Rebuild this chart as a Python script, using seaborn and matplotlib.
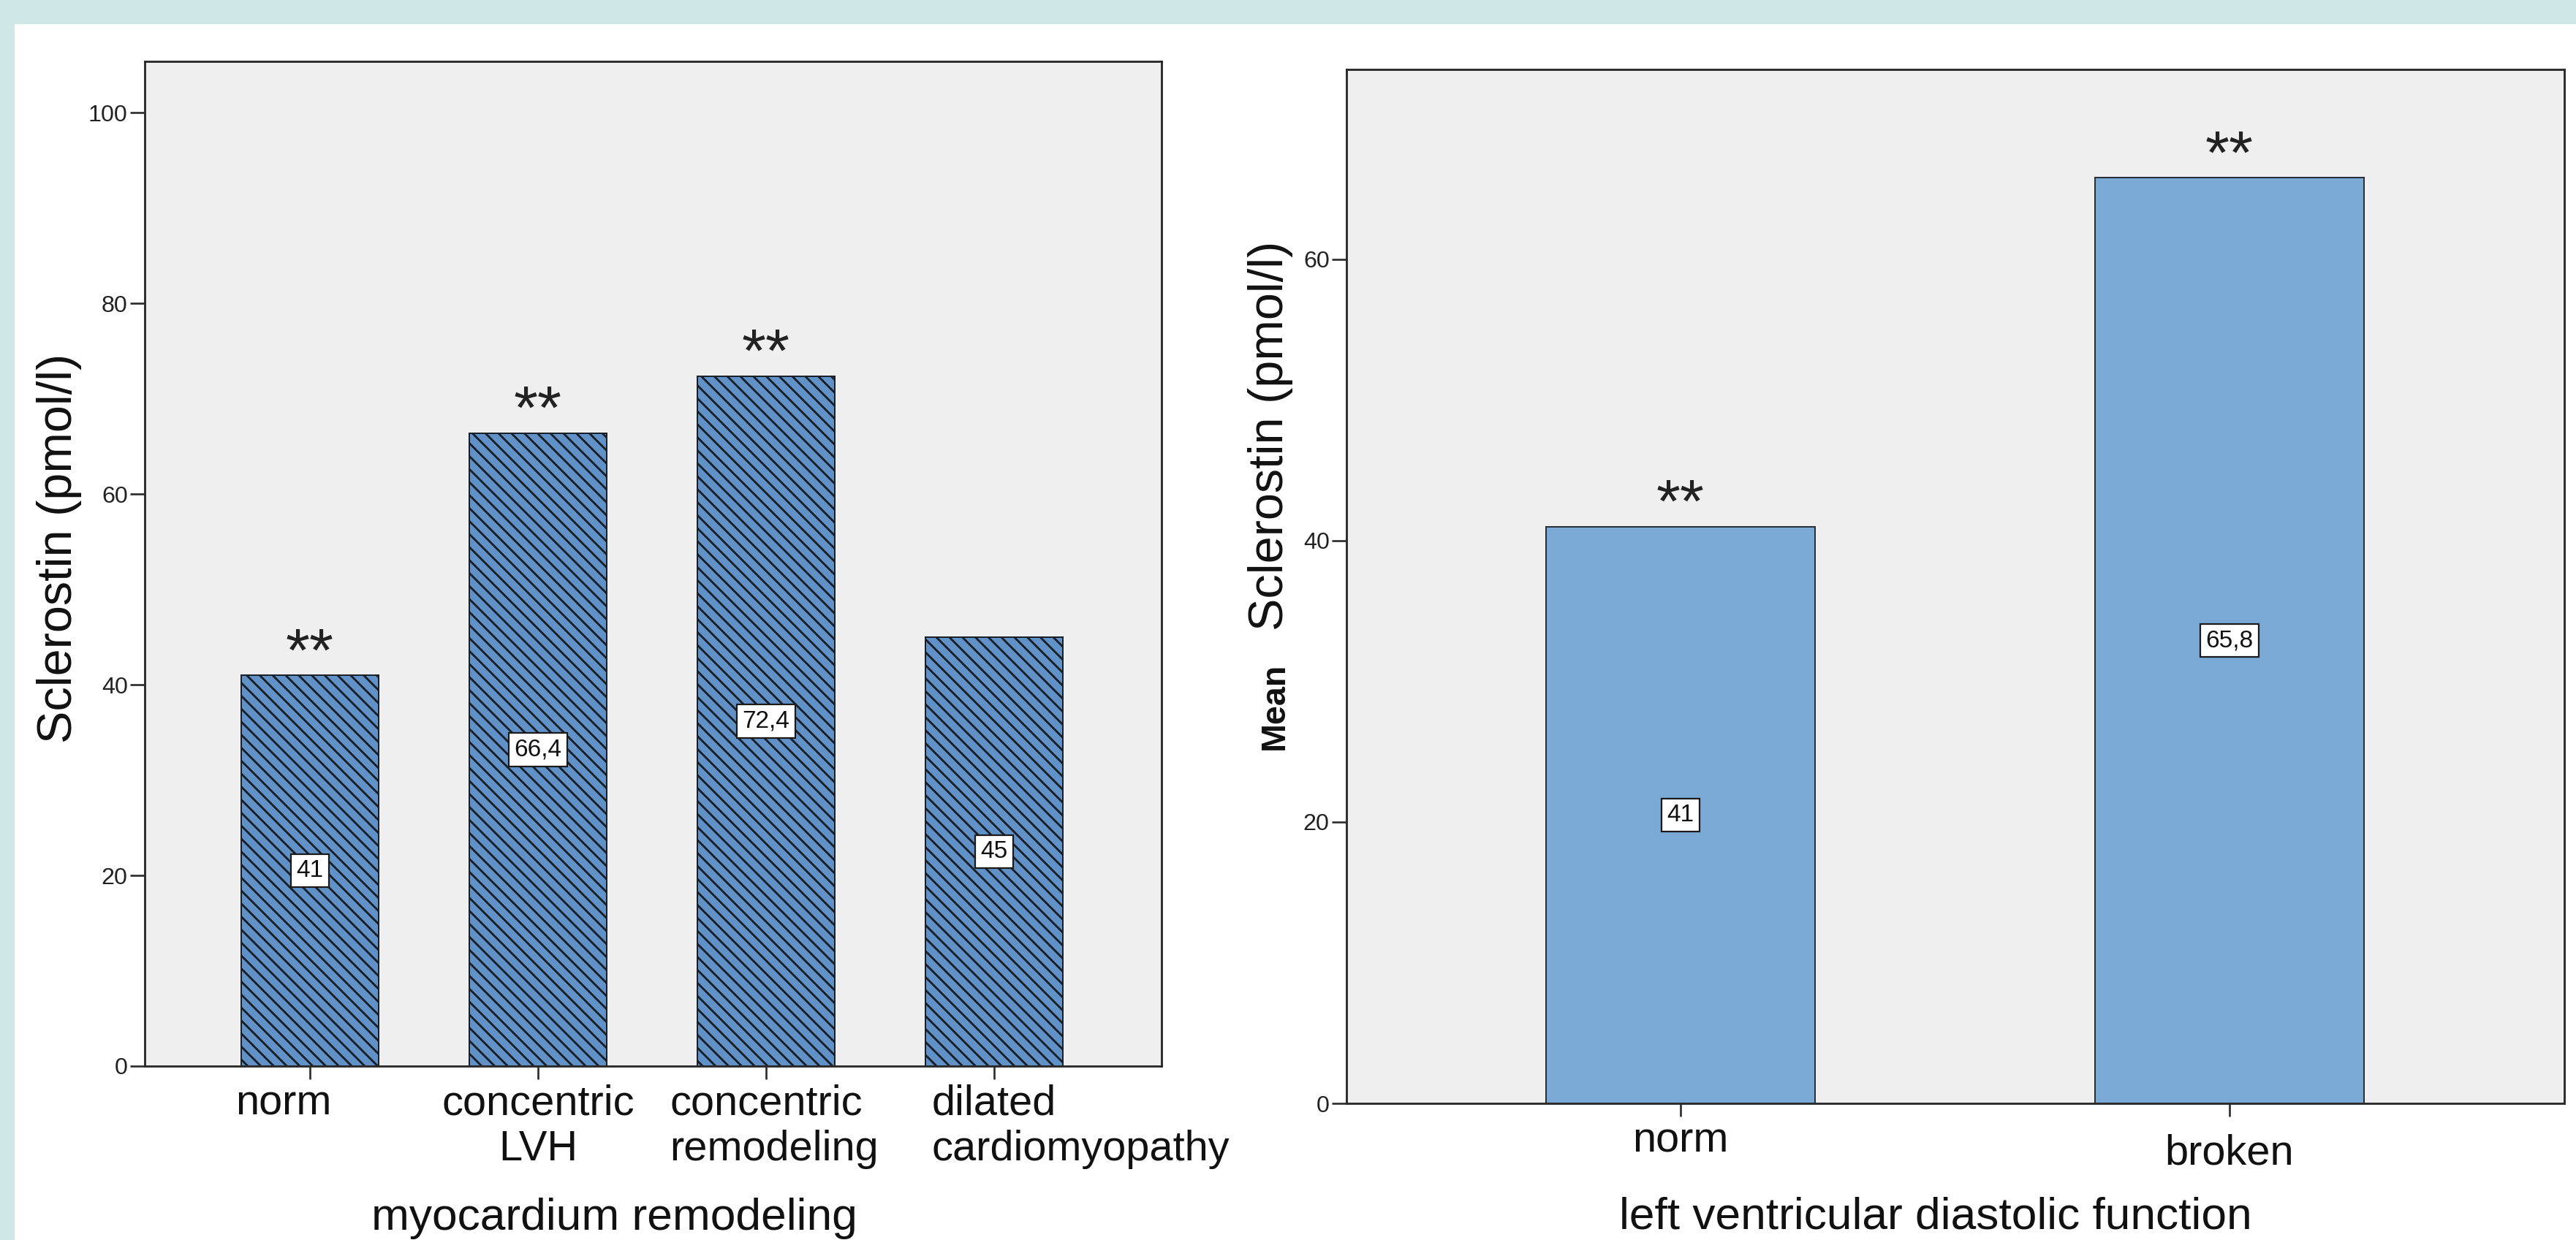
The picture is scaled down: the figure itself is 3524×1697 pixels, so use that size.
import matplotlib
matplotlib.use("Agg")
import matplotlib.pyplot as plt
import seaborn as sns
from matplotlib.patches import Rectangle
from matplotlib.transforms import ScaledTranslation

# Mean sclerostin by myocardium remodeling type
remodeling_groups = ["norm", "concentric\nLVH", "concentric\nremodeling", "dilated\ncardiomyopathy"]
remodeling_means = [41.0, 66.4, 72.4, 45.0]
remodeling_marks = ["**", "**", "**", ""]
remodeling_yticks = [0, 20, 40, 60, 80, 100]

# Mean sclerostin by left ventricular diastolic function
diastolic_groups = ["norm", "broken"]
diastolic_means = [41.0, 65.8]
diastolic_marks = ["**", "**"]
diastolic_yticks = [0, 20, 40, 60]

sns.set_style("ticks")
plt.rcParams["font.family"] = ["Liberation Sans", "DejaVu Sans"]
plt.rcParams["hatch.linewidth"] = 1.3

DPI = 160
W, H = 3524, 1697
fig = plt.figure(figsize=(W / DPI, H / DPI), dpi=DPI, facecolor="white")

# light teal frame strips along the top and left edges
frame_color = "#d0e7e8"
fig.patches.append(Rectangle((0, 1 - 32 / H), 1, 32 / H, transform=fig.transFigure,
                             color=frame_color, zorder=0))
fig.patches.append(Rectangle((0, 0), 19 / W, 1, transform=fig.transFigure,
                             color=frame_color, zorder=0))

ax1 = fig.add_axes([198 / W, 1 - 1459 / H, 1391 / W, 1375 / H])
ax2 = fig.add_axes([1842 / W, 1 - 1510 / H, 1666 / W, 1415 / H])


def value_text(v):
    s = f"{v:.1f}"
    if s.endswith(".0"):
        s = s[:-2]
    return s.replace(".", ",")


sns.barplot(x=remodeling_groups, y=remodeling_means, ax=ax1, color="#6092c8",
            saturation=1, width=0.6, edgecolor="#1a202a", linewidth=0.9,
            hatch="\\\\\\", errorbar=None)
sns.barplot(x=diastolic_groups, y=diastolic_means, ax=ax2, color="#7ba9d6",
            saturation=1, width=0.49, edgecolor="#2a2f36", linewidth=0.9,
            errorbar=None)

for ax in (ax1, ax2):
    ax.set_facecolor("#efefef")
    for s in ax.spines.values():
        s.set_visible(True)
        s.set_color("#2b2b2b")
        s.set_linewidth(1.3)
    ax.grid(False)
    ax.tick_params(axis="both", direction="out", width=1.2, color="#2b2b2b")
    ax.tick_params(axis="y", length=9, labelsize=14.5, pad=1.5, labelcolor="#222222")
    ax.tick_params(axis="x", length=8, labelsize=26, pad=3, labelcolor="#111111")

ax1.set_ylim(0, 105.4)
ax1.set_yticks(remodeling_yticks)
ax1.set_xlim(-0.724, 3.734)
ax2.set_ylim(0, 73.5)
ax2.set_yticks(diastolic_yticks)
ax2.set_xlim(-0.6085, 1.61)

# value boxes in the middle of each bar, significance marks above
box = dict(boxstyle="square,pad=0.22", fc="white", ec="#1a1a1a", lw=1.0)
for ax, means, marks in ((ax1, remodeling_means, remodeling_marks),
                         (ax2, diastolic_means, diastolic_marks)):
    bars = ax.containers[0]
    ax.bar_label(bars, labels=[value_text(v) for v in means], label_type="center",
                 fontsize=15, color="#111111", bbox=box)
    ax.bar_label(bars, labels=marks, padding=-5, fontsize=38, color="#222222")

# axis titles
ax1.set_ylabel("Sclerostin (pmol/l)", fontsize=30, color="#111111")
ax1.yaxis.set_label_coords(-0.0841, 0.5156)
ax1.yaxis.label.set_va("center")
ax1.set_xlabel("myocardium remodeling", fontsize=28, color="#111111")
ax1.xaxis.set_label_coords(0.4615, -0.1513)
ax1.xaxis.label.set_va("center")

ax2.set_ylabel("Sclerostin (pmol/l)", fontsize=30, color="#111111")
ax2.yaxis.set_label_coords(-0.0624, 0.646)
ax2.yaxis.label.set_va("center")
ax2.text(-0.0588, 0.384, "Mean", transform=ax2.transAxes, rotation=90,
         fontsize=21, fontweight="bold", ha="center", va="center", color="#111111")
ax2.set_xlabel("left ventricular diastolic function", fontsize=28, color="#111111")
ax2.xaxis.set_label_coords(0.4838, -0.1102)
ax2.xaxis.label.set_va("center")


def shift(label, dx_px, dy_px):
    label.set_transform(label.get_transform()
                        + ScaledTranslation(dx_px / DPI, dy_px / DPI, fig.dpi_scale_trans))


# two-line category names whose lines share a left edge, first line centred on the tick
left_aligned = {"concentric\nremodeling", "dilated\ncardiomyopathy"}
renderer = fig.canvas.get_renderer()
for lab in ax1.get_xticklabels():
    txt = lab.get_text()
    if txt in left_aligned:
        probe = ax1.text(0, 0, txt.split("\n")[0], fontsize=lab.get_fontsize())
        w = probe.get_window_extent(renderer).width
        probe.remove()
        lab.set_ha("left")
        lab.set_multialignment("left")
        shift(lab, -w / 2, 0)
    elif txt == "norm":
        shift(lab, -36, 0)

for lab in ax2.get_xticklabels():
    if lab.get_text() == "broken":
        shift(lab, 0, -17)

fig.savefig("out.png", dpi=DPI, facecolor="white")
